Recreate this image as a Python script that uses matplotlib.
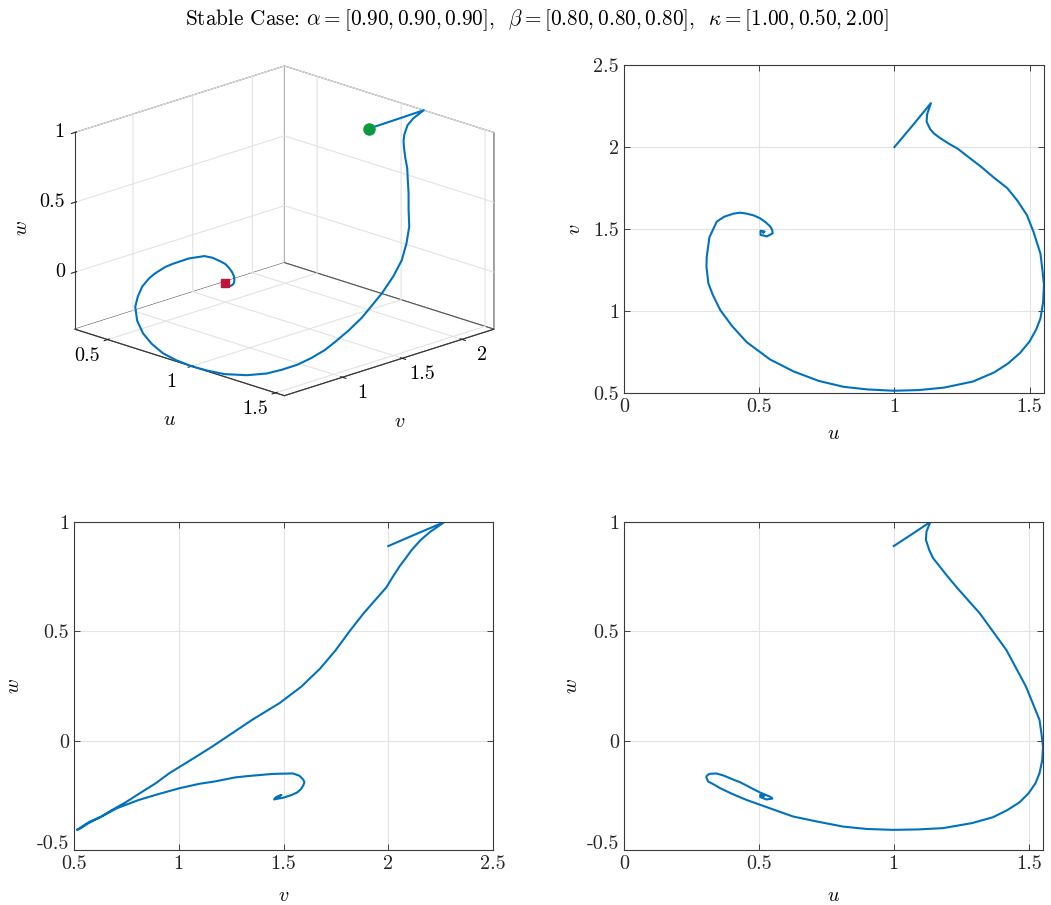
import matplotlib
matplotlib.use("Agg")
import matplotlib.pyplot as plt
from matplotlib.ticker import FuncFormatter
from matplotlib.transforms import ScaledTranslation
from mpl_toolkits.mplot3d import proj3d

# model parameters shown in the title
alpha = [0.90, 0.90, 0.90]
beta = [0.80, 0.80, 0.80]
kappa = [1.00, 0.50, 2.00]

# trajectory samples (u, v, w)
u = [1.000, 1.068, 1.135, 1.121, 1.119, 1.132, 1.146, 1.168, 1.200, 1.234,
     1.277, 1.319, 1.367, 1.417, 1.454, 1.490, 1.515, 1.540, 1.547, 1.553,
     1.550, 1.540, 1.525, 1.500, 1.465, 1.420, 1.368, 1.290, 1.183, 1.090,
     0.997, 0.900, 0.812, 0.720, 0.627, 0.540, 0.454, 0.400, 0.356, 0.328,
     0.312, 0.305, 0.306, 0.316, 0.343, 0.370, 0.405, 0.430, 0.454, 0.480,
     0.504, 0.525, 0.541, 0.548, 0.550, 0.528, 0.505, 0.505, 0.520, 0.515]
v = [2.000, 2.133, 2.268, 2.200, 2.155, 2.110, 2.083, 2.056, 2.022, 1.990,
     1.935, 1.882, 1.815, 1.750, 1.675, 1.585, 1.480, 1.350, 1.255, 1.160,
     1.055, 0.955, 0.890, 0.815, 0.745, 0.680, 0.625, 0.570, 0.533, 0.518,
     0.514, 0.522, 0.538, 0.574, 0.632, 0.705, 0.810, 0.908, 1.006, 1.100,
     1.170, 1.270, 1.330, 1.450, 1.545, 1.575, 1.594, 1.600, 1.594, 1.583,
     1.565, 1.540, 1.515, 1.495, 1.474, 1.455, 1.465, 1.490, 1.485, 1.478]
w = [0.890, 0.945, 1.000, 0.955, 0.918, 0.870, 0.834, 0.800, 0.750, 0.700,
     0.640, 0.582, 0.500, 0.415, 0.330, 0.247, 0.171, 0.095, 0.034, -0.027,
     -0.090, -0.149, -0.195, -0.240, -0.283, -0.318, -0.350, -0.377, -0.400, -0.406,
     -0.408, -0.404, -0.393, -0.371, -0.347, -0.309, -0.271, -0.243, -0.217, -0.197,
     -0.187, -0.168, -0.162, -0.152, -0.150, -0.160, -0.178, -0.190, -0.205, -0.222,
     -0.237, -0.248, -0.256, -0.262, -0.265, -0.269, -0.258, -0.248, -0.252, -0.256]

u_ticks = [0.5, 1, 1.5]
v_ticks = [1, 1.5, 2]
w_ticks = [0, 0.5, 1]

LINE = "#0072BD"
EDGE = "#3a3a3a"
GRID = "#e3e3e3"
FS = 14.5

plt.rcParams.update({
    "font.family": "serif",
    "font.serif": ["cmr10"],
    "mathtext.fontset": "cm",
    "axes.unicode_minus": False,
    "font.size": FS,
    "grid.color": GRID,
    "grid.linewidth": 0.8,
    "axes.edgecolor": EDGE,
    "xtick.color": "#262626",
    "ytick.color": "#262626",
})

fmt = FuncFormatter(lambda x, p: f"{x:g}")

fig = plt.figure(figsize=(10.51, 9.05), dpi=100)

title = (r"Stable Case: $\alpha = [%s]$,  $\beta = [%s]$,  $\kappa = [%s]$" % (
    ", ".join(f"{a:.2f}" for a in alpha),
    ", ".join(f"{b:.2f}" for b in beta),
    ", ".join(f"{k:.2f}" for k in kappa)))
fig.text(0.511, 0.978, title, ha="center", va="center", fontsize=15.3)

# 3-D trajectory
ax3 = fig.add_axes([0.0055, 0.519, 0.52, 0.44], projection="3d", proj_type="ortho")
ax3.view_init(elev=18.5, azim=-44.99)
ax3.set_box_aspect((1, 1, 0.70), zoom=1.14)
ax3.plot(u, v, w, color=LINE, lw=1.5)
ax3.plot(u[0], v[0], w[0], "o", color="#0b9a3e", ms=8, zorder=5)
ax3.plot(u[-1], v[-1], w[-1], "s", color="#c0143c", ms=6, zorder=5)
u0, u1 = min(u), max(u)
v0, v1 = min(v), max(v)
w0, w1 = min(w), max(w)
ax3.set_xlim(u0, u1)
ax3.set_ylim(v0, v1)
ax3.set_zlim(w0, w1)
ax3.set_xticks(u_ticks)
ax3.set_yticks(v_ticks)
ax3.set_zticks(w_ticks)
ax3.set_xticklabels([])
ax3.set_yticklabels([])
ax3.set_zticklabels([])
for axis in (ax3.xaxis, ax3.yaxis, ax3.zaxis):
    axis.set_pane_color("white")
    axis.pane.set_edgecolor("#5a5a5a")
    axis.pane.set_linewidth(0.8)
    axis.line.set_color(EDGE)
ax3.zaxis.set_ticks_position("lower")
ax3.zaxis.set_label_position("lower")
ax3.set_xlabel("")
ax3.set_ylabel("")
ax3.set_zlabel("")


def style2d(ax, xpad=10.5, ypad=4):
    ax.grid(True)
    ax.tick_params(direction="in", top=True, right=True, length=4, width=0.6, labelsize=FS)
    ax.xaxis.set_major_formatter(fmt)
    ax.yaxis.set_major_formatter(fmt)
    ax.xaxis.labelpad = xpad
    ax.yaxis.labelpad = ypad
    for s in ax.spines.values():
        s.set_linewidth(0.8)


def lift_bottom_label(ax):
    lab = ax.yaxis.get_major_ticks()[0].label1
    lab.set_transform(lab.get_transform() + ScaledTranslation(0, 6 / 72, fig.dpi_scale_trans))


# u-v projection
ax_uv = fig.add_axes([0.5937, 0.5657, 0.3996, 0.3624])
ax_uv.plot(u, v, color=LINE, lw=1.5)
ax_uv.set_xlim(0, max(u))
ax_uv.set_ylim(0.5, 2.5)
ax_uv.set_xticks([0, 0.5, 1, 1.5])
ax_uv.set_yticks([0.5, 1, 1.5, 2, 2.5])
ax_uv.set_xlabel("$u$", fontsize=FS)
ax_uv.set_ylabel("$v$", fontsize=FS)
style2d(ax_uv, xpad=7, ypad=7)

# v-w projection
ax_vw = fig.add_axes([0.0704, 0.0608, 0.3987, 0.3624])
ax_vw.plot(v, w, color=LINE, lw=1.5)
ax_vw.set_xlim(0.5, 2.5)
ax_vw.set_ylim(-0.5, 1)
ax_vw.set_xticks([0.5, 1, 1.5, 2, 2.5])
ax_vw.set_yticks([-0.5, 0, 0.5, 1])
ax_vw.set_xlabel("$v$", fontsize=FS)
ax_vw.set_ylabel("$w$", fontsize=FS)
style2d(ax_vw, ypad=10)
lift_bottom_label(ax_vw)

# u-w projection
ax_uw = fig.add_axes([0.5937, 0.0608, 0.3987, 0.3624])
ax_uw.plot(u, w, color=LINE, lw=1.5)
ax_uw.set_xlim(0, max(u))
ax_uw.set_ylim(-0.5, 1)
ax_uw.set_xticks([0, 0.5, 1, 1.5])
ax_uw.set_yticks([-0.5, 0, 0.5, 1])
ax_uw.set_xlabel("$u$", fontsize=FS)
ax_uw.set_ylabel("$w$", fontsize=FS)
style2d(ax_uw)
lift_bottom_label(ax_uw)

# 3-D tick labels: project points just outside the box edges to figure coordinates
fig.canvas.draw()
to_fig = fig.transFigure.inverted()


def label3d(x, y, z, s, **kw):
    px, py, _ = proj3d.proj_transform(x, y, z, ax3.M)
    fx, fy = to_fig.transform(ax3.transData.transform((px, py)))
    fig.text(fx, fy, s, fontsize=FS, va="center", **kw)


for t in u_ticks:
    label3d(t, v0 - 0.17, w0 - 0.069, f"{t:g}", ha="center")
for t in v_ticks:
    label3d(u1 + 0.12, t, w0 - 0.069, f"{t:g}", ha="center")
for t in w_ticks:
    label3d(u0 - 0.03, v0 - 0.042, t, f"{t:g}", ha="right")

# axis names of the 3-D view
fig.text(169 / 1051, 1 - 420 / 905, "$u$", ha="center", va="center", fontsize=FS)
fig.text(400 / 1051, 1 - 422 / 905, "$v$", ha="center", va="center", fontsize=FS)
fig.text(22 / 1051, 1 - 228 / 905, "$w$", ha="center", va="center", fontsize=FS,
         rotation=90)

fig.savefig("out.png", dpi=100)
